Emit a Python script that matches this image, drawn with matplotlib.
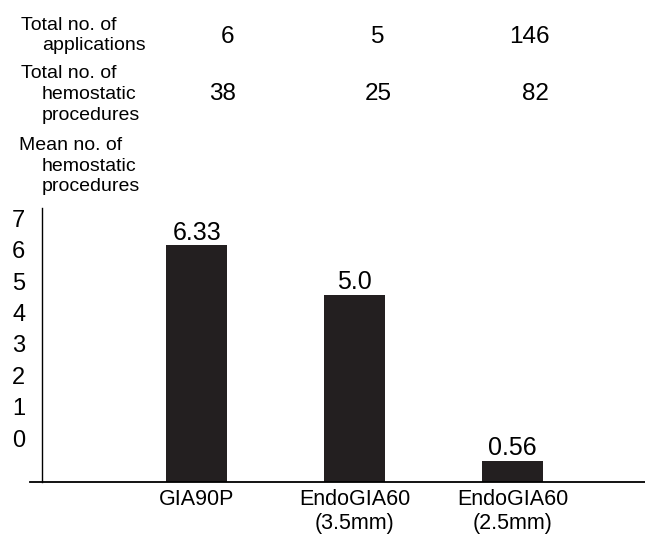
import matplotlib
matplotlib.use("Agg")
import matplotlib.pyplot as plt

plt.rcParams['font.family'] = ['Liberation Sans', 'DejaVu Sans']

# data
devices = ["GIA90P", "EndoGIA60\n(3.5mm)", "EndoGIA60\n(2.5mm)"]
applications = [6, 5, 146]
hemostatic = [38, 25, 82]
mean_hemostatic = [6.33, 5.0, 0.56]
mean_labels = ["6.33", "5.0", "0.56"]
tick_labels = ["0", "1", "2", "3", "4", "5", "6", "7"]

W, H = 645, 540
fig = plt.figure(figsize=(W / 100, H / 100), dpi=100)

# axes placed in pixel terms
left, right, bottom, top = 42, 645, 482, 208
ax = fig.add_axes([left / W, (H - bottom) / H, (right - left) / W, (bottom - top) / H])

bar_color = "#231f20"
x = list(range(len(devices)))
ax.bar(x, mean_hemostatic, width=0.385, color=bar_color)

for xi, v, lab in zip(x, mean_hemostatic, mean_labels):
    ax.text(xi, v + 0.15, lab, ha="center", va="baseline", fontsize=18)

ax.set_xlim(-0.98, 2.84)
ax.set_ylim(0, 7.33)

for s in ["top", "right", "bottom"]:
    ax.spines[s].set_visible(False)
ax.spines["left"].set_linewidth(1.0)
# baseline pokes a little past the left axis, as in the original
ax.axhline(0, xmin=-0.02, xmax=1, color="black", linewidth=1.3, clip_on=False)

ax.set_xticks(x)
ax.set_xticklabels(devices, fontsize=15.5, linespacing=1.2)
ax.tick_params(axis="x", length=0, pad=5)

# y labels in the original are spaced on their own scale (0 at ~438px, ~31.4px per step)
ypos = [(bottom - (438 - 31.4 * k)) / 37.4 for k in range(len(tick_labels))]
ax.set_yticks(ypos)
ax.set_yticklabels(tick_labels, fontsize=17)
ax.tick_params(axis="y", length=0, pad=12)

# header table above the plot
def px(xp, yp):
    return xp / W, 1 - yp / H

label_fs = 14
val_fs = 17.5
header_lines = [
    (21, 30, "Total no. of"),
    (42, 50, "applications"),
    (21, 78, "Total no. of"),
    (42, 99, "hemostatic"),
    (42, 120, "procedures"),
    (19, 150, "Mean no. of"),
    (42, 171, "hemostatic"),
    (42, 191, "procedures"),
]
for xp, yp, txt in header_lines:
    fig.text(*px(xp, yp), txt, fontsize=label_fs, va="baseline")

row1_x = [228, 378, 529]
row2_x = [222, 378, 535]
for xp, v in zip(row1_x, applications):
    fig.text(*px(xp, 43), str(v), fontsize=val_fs, ha="center", va="baseline")
for xp, v in zip(row2_x, hemostatic):
    fig.text(*px(xp, 100), str(v), fontsize=val_fs, ha="center", va="baseline")

fig.savefig("out.png", dpi=100)
